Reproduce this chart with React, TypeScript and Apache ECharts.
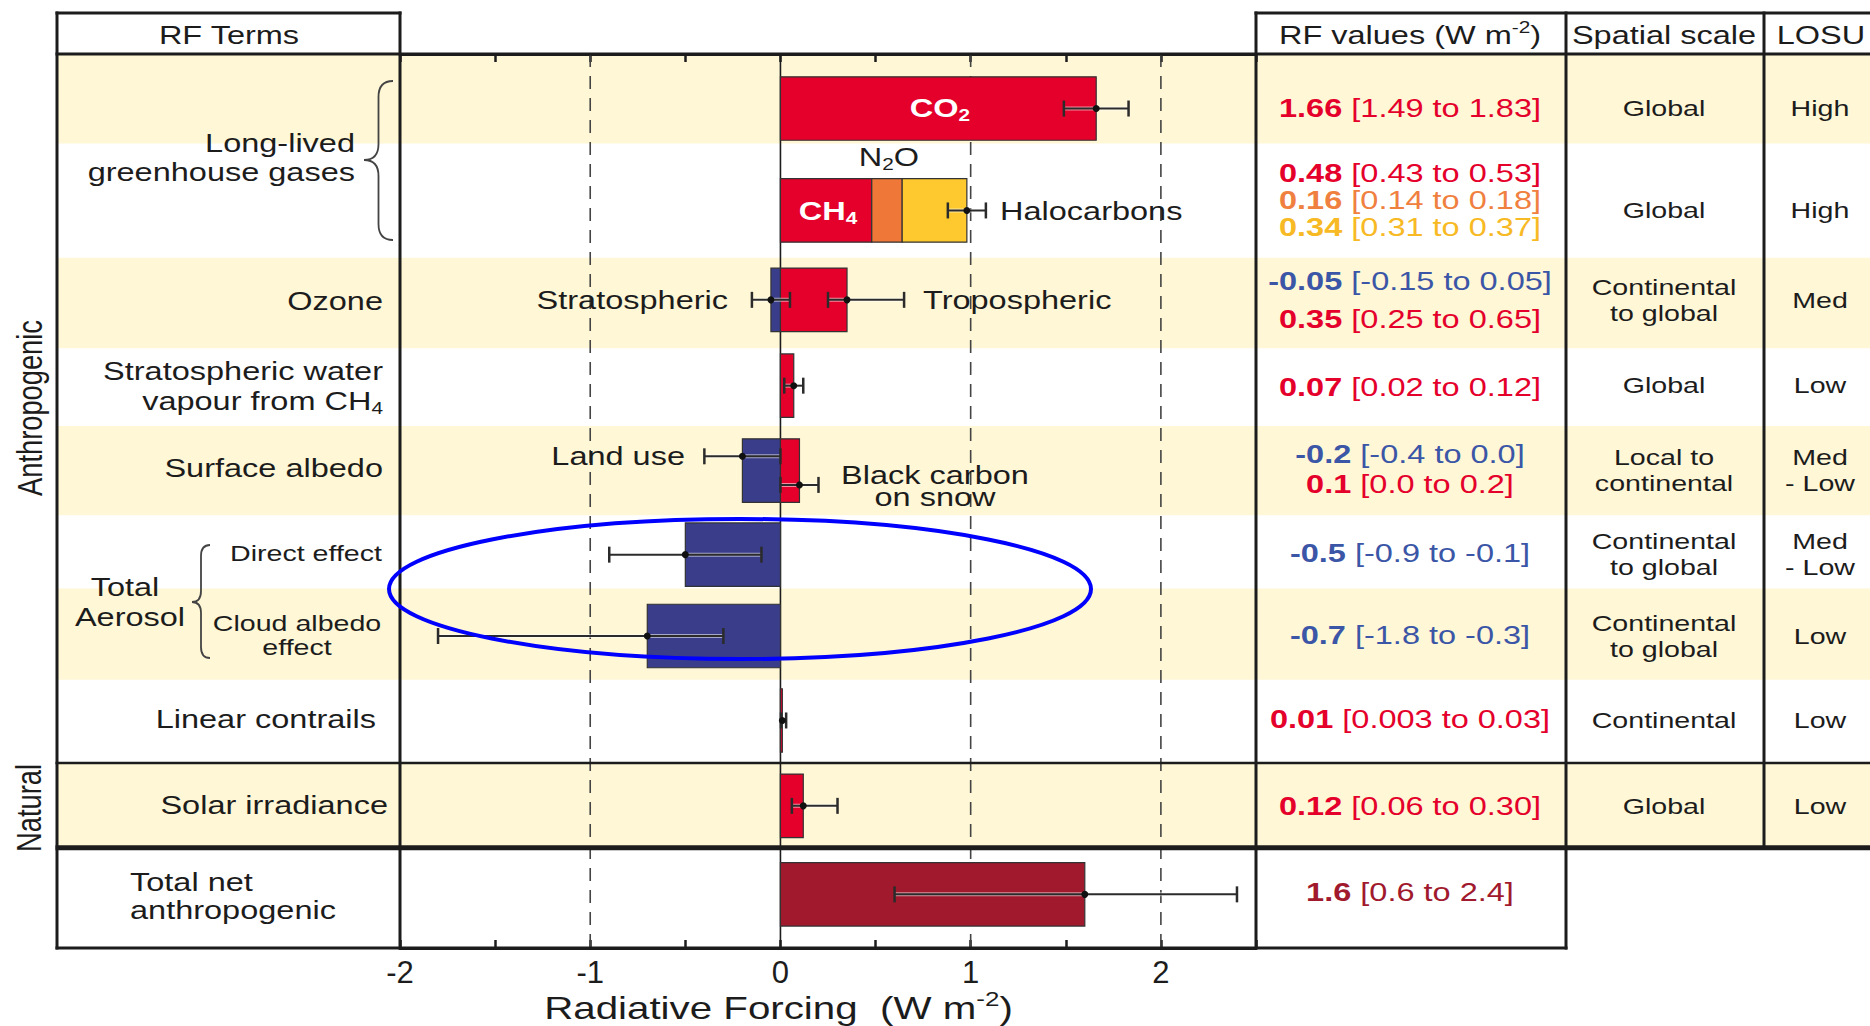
import React, { useEffect, useRef } from 'react';
import * as echarts from 'echarts';

// ---------------- data ----------------
const TERMS = [
  'CO2', 'CH4', 'N2O', 'Halocarbons', 'Stratospheric ozone', 'Tropospheric ozone',
  'Stratospheric water vapour from CH4', 'Surface albedo: land use', 'Surface albedo: black carbon on snow',
  'Aerosol direct effect', 'Aerosol cloud albedo effect', 'Linear contrails', 'Solar irradiance', 'Total net anthropogenic',
];
const BEST = [1.66, 0.48, 0.16, 0.34, -0.05, 0.35, 0.07, -0.2, 0.1, -0.5, -0.7, 0.01, 0.12, 1.6];
const LOW = [1.49, 0.43, 0.14, 0.31, -0.15, 0.25, 0.02, -0.4, 0.0, -0.9, -1.8, 0.003, 0.06, 0.6];
const HIGH = [1.83, 0.53, 0.18, 0.37, 0.05, 0.65, 0.12, 0.0, 0.2, -0.1, -0.3, 0.03, 0.3, 2.4];
const ROW_OF = [0, 1, 1, 1, 2, 2, 3, 4, 4, 5, 6, 7, 8, 9];
const ERROR_GROUPS = [[0], [1, 2, 3], [4], [5], [6], [7], [8], [9], [10], [11], [12], [13]];
const BEST_TEXT = ['1.66', '0.48', '0.16', '0.34', '-0.05', '0.35', '0.07', '-0.2', '0.1', '-0.5', '-0.7', '0.01', '0.12', '1.6'];
const RANGE_TEXT = [
  '[1.49 to 1.83]', '[0.43 to 0.53]', '[0.14 to 0.18]', '[0.31 to 0.37]', '[-0.15 to 0.05]', '[0.25 to 0.65]',
  '[0.02 to 0.12]', '[-0.4 to 0.0]', '[0.0 to 0.2]', '[-0.9 to -0.1]', '[-1.8 to -0.3]', '[0.003 to 0.03]',
  '[0.06 to 0.30]', '[0.6 to 2.4]',
];
const SPATIAL = ['Global', 'Global', 'Continental\nto global', 'Global', 'Local to\ncontinental', 'Continental\nto global', 'Continental\nto global', 'Continental', 'Global'];
const LOSU = ['High', 'High', 'Med', 'Low', 'Med\n- Low', 'Med\n- Low', 'Low', 'Low', 'Low'];
const X_TICKS = [-2, -1, 0, 1, 2];
const GRID_LINES = [-1, 1, 2];

// ---------------- style / layout ----------------
const FONT = '"Liberation Sans", Arial, Helvetica, sans-serif';
const INK = '#1c1c1c';
const STRETCH = 1.3;
const BAND_FILL = '#FFF7D6';
const BAR_FILL: Record<string, string> = { red: '#E4002B', orange: '#EF7737', yellow: '#FDC92E', blue: '#393D8A', dark: '#A0192D' };
const TEXT_FILL: Record<string, string> = { red: '#E4002B', orange: '#F08040', yellow: '#F7B924', blue: '#3B56A6', dark: '#A0192D' };
const COLOR_KEY = ['red', 'red', 'orange', 'yellow', 'blue', 'red', 'red', 'blue', 'red', 'blue', 'blue', 'red', 'red', 'dark'];
const GRID_LEFT = 400;
const GRID_TOP = 54;
const GRID_W = 856;
const GRID_H = 894;
const Y_MAX = 10;
const ROW_CENTER = [0.61, 1.75, 2.75, 3.71, 4.66, 5.6, 6.51, 7.455, 8.41, 9.4];
const BAND_EDGES = [0, 1.0, 2.28, 3.29, 4.16, 5.16, 5.98, 7.0, 7.93, 8.88, 10];
const BAR_HALF = 0.355;
const ERR_DY: Record<number, number> = { 7: -0.16, 8: 0.16 };
const VALUE_Y = [108, 173, 200, 227, 281, 319, 387, 454, 484, 553, 635, 719, 806, 892];
const CAP = 8;

const Y = (u: number) => GRID_TOP + (u / Y_MAX) * GRID_H;

// braces
function braceD(tipX: number, rightX: number, top: number, bottom: number, tipY: number, c: number) {
  const xm = (tipX + rightX) / 2;
  return `M${rightX} ${top} Q${xm} ${top} ${xm} ${top + c} L${xm} ${tipY - c} Q${xm} ${tipY} ${tipX} ${tipY} ` +
    `Q${xm} ${tipY} ${xm} ${tipY + c} L${xm} ${bottom - c} Q${xm} ${bottom} ${rightX} ${bottom}`;
}
echarts.graphic.registerShape('braceA', echarts.graphic.extendPath(braceD(364, 393, 81, 240, 160, 16), {}));
echarts.graphic.registerShape('braceB', echarts.graphic.extendPath(braceD(192, 210, 545, 658, 602, 11), {}));

// bar segments (stacked per row, positive and negative separately)
const SEGMENTS: number[][] = (() => {
  const pos: Record<number, number> = {};
  const neg: Record<number, number> = {};
  const out: number[][] = [];
  BEST.forEach((v, i) => {
    const r = ROW_OF[i];
    if (v >= 0) {
      const b = pos[r] || 0;
      out.push([b, b + v, r, i]);
      pos[r] = b + v;
    } else {
      const b = neg[r] || 0;
      out.push([b + v, b, r, i]);
      neg[r] = b + v;
    }
  });
  return out;
})();

const ERRORS: number[][] = ERROR_GROUPS.map((g) => {
  const sum = (a: number[]) => g.reduce((s, i) => s + a[i], 0);
  return [sum(BEST), sum(LOW), sum(HIGH), ROW_OF[g[0]], g[g.length - 1]];
});

type TO = { size?: number; color?: string; bold?: boolean; align?: string; lh?: number; rich?: any; rot?: number; sx?: number };
function label(x: number, y: number, text: string, o: TO = {}) {
  const style: any = {
    text,
    fill: o.color ?? INK,
    fontSize: o.size ?? 25,
    fontFamily: FONT,
    fontWeight: o.bold ? 'bold' : 'normal',
    align: o.align ?? 'center',
    verticalAlign: 'middle',
  };
  if (o.lh) style.lineHeight = o.lh;
  if (o.rich) style.rich = o.rich;
  return { type: 'text', x, y, z: 100, silent: true, scaleX: o.sx ?? STRETCH, rotation: o.rot ?? 0, style };
}
function richSet(size: number, color: string, bold = false) {
  const w = bold ? 'bold' : 'normal';
  const small = Math.round(size * 0.64);
  return {
    n: { fontSize: size, fontFamily: FONT, fill: color, fontWeight: w, lineHeight: size + 6 },
    b: { fontSize: size, fontFamily: FONT, fill: color, fontWeight: 'bold', lineHeight: size + 6 },
    sub: { fontSize: small, fontFamily: FONT, fill: color, fontWeight: w, lineHeight: small, verticalAlign: 'bottom' },
    sup: { fontSize: small, fontFamily: FONT, fill: color, fontWeight: w, lineHeight: small, verticalAlign: 'top' },
  };
}
const hline = (x1: number, x2: number, y: number, w: number) => ({
  type: 'line', z: 50, silent: true, shape: { x1, y1: y, x2, y2: y }, style: { stroke: INK, lineWidth: w },
});
const vline = (x: number, y1: number, y2: number, w: number) => ({
  type: 'line', z: 50, silent: true, shape: { x1: x, y1, x2: x, y2 }, style: { stroke: INK, lineWidth: w },
});

function buildGraphic() {
  const els: any[] = [];
  // alternating row bands
  for (let i = 0; i < BAND_EDGES.length - 1; i++) {
    if (i % 2 !== 0) continue;
    const y0 = Y(BAND_EDGES[i]);
    const y1 = Y(BAND_EDGES[i + 1]);
    els.push({ type: 'rect', z: -10, silent: true, shape: { x: 57, y: y0, width: 1870 - 57, height: y1 - y0 }, style: { fill: BAND_FILL } });
  }
  // table frame
  els.push(vline(57, 11.5, 949.5, 3), vline(400, 11.5, 949.5, 3), vline(1256, 11.5, 949.5, 3), vline(1566, 11.5, 949.5, 3), vline(1764, 11.5, 848, 3));
  els.push(hline(55.5, 401.5, 13, 3), hline(1254.5, 1870, 13, 3), hline(55.5, 1870, 54, 3));
  els.push(hline(55.5, 1870, Y(BAND_EDGES[8]), 2.5), hline(55.5, 1870, Y(BAND_EDGES[9]), 5), hline(55.5, 1567.5, 948, 3));
  // braces
  els.push({ type: 'braceA', x: 0, y: 0, z: 60, silent: true, style: { fill: 'none', stroke: '#444', lineWidth: 1.8 } });
  els.push({ type: 'braceB', x: 0, y: 0, z: 60, silent: true, style: { fill: 'none', stroke: '#444', lineWidth: 1.8 } });

  // headers
  els.push(label(229, 35, 'RF Terms'));
  els.push(label(1410, 35, '{n|RF values (W m}{sup|-2}{n|)}', { rich: richSet(25, INK) }));
  els.push(label(1664, 35, 'Spatial scale'));
  els.push(label(1821, 35, 'LOSU'));

  // RF terms
  els.push(label(355, 143, 'Long-lived', { align: 'right' }));
  els.push(label(355, 172, 'greenhouse gases', { align: 'right' }));
  els.push(label(383, 301, 'Ozone', { align: 'right' }));
  els.push(label(383, 371, 'Stratospheric water', { align: 'right' }));
  els.push(label(383, 401, '{n|vapour from CH}{sub|4}', { align: 'right', rich: richSet(25, INK) }));
  els.push(label(383, 468, 'Surface albedo', { align: 'right' }));
  els.push(label(382, 553, 'Direct effect', { align: 'right', size: 22 }));
  els.push(label(125, 587, 'Total'));
  els.push(label(130, 617, 'Aerosol'));
  els.push(label(297, 623, 'Cloud albedo', { size: 22 }));
  els.push(label(297, 647, 'effect', { size: 22 }));
  els.push(label(376, 719, 'Linear contrails', { align: 'right' }));
  els.push(label(388, 805, 'Solar irradiance', { align: 'right' }));
  els.push(label(130, 882, 'Total net', { align: 'left' }));
  els.push(label(130, 910, 'anthropogenic', { align: 'left' }));

  // vertical group labels
  els.push(label(30, 408, 'Anthropogenic', { size: 35, rot: Math.PI / 2, sx: 0.78 }));
  els.push(label(29, 808, 'Natural', { size: 35, rot: Math.PI / 2, sx: 0.78 }));

  // plot annotations
  els.push(label(940, 108, '{n|CO}{sub|2}', { rich: richSet(25, '#FFFFFF', true) }));
  els.push(label(828, 211, '{n|CH}{sub|4}', { rich: richSet(25, '#FFFFFF', true) }));
  els.push(label(889, 157, '{n|N}{sub|2}{n|O}', { rich: richSet(25, INK) }));
  els.push(label(1000, 211, 'Halocarbons', { align: 'left' }));
  els.push(label(728, 300, 'Stratospheric', { align: 'right' }));
  els.push(label(923, 300, 'Tropospheric', { align: 'left' }));
  els.push(label(685, 456, 'Land use', { align: 'right' }));
  els.push(label(935, 475, 'Black carbon'));
  els.push(label(935, 497, 'on snow'));

  // RF values column
  BEST_TEXT.forEach((b, i) => {
    const c = TEXT_FILL[COLOR_KEY[i]];
    els.push(label(1410, VALUE_Y[i], `{b|${b}} {n|${RANGE_TEXT[i]}}`, { rich: richSet(25, c) }));
  });
  // spatial scale and LOSU columns
  SPATIAL.forEach((s, r) => {
    els.push(label(1664, Y(ROW_CENTER[r]), s, { size: 22, lh: 26 }));
    els.push(label(1820, Y(ROW_CENTER[r]), LOSU[r], { size: 22, lh: 26 }));
  });

  // axis title
  els.push(label(GRID_LEFT + GRID_W * (2 / 4.5) - 2, 1008, '{n|Radiative Forcing  (W m}{sup|-2}{n|)}', { rich: richSet(31, INK) }));

  // highlight ellipse
  els.push({ type: 'ellipse', z: 120, silent: true, shape: { cx: 740, cy: 589, rx: 351, ry: 70 }, style: { fill: 'none', stroke: '#0000FF', lineWidth: 4 } });
  return els;
}

function buildOption(): any {
  const axisCommon = {
    type: 'value',
    min: -2,
    max: 2.5,
    interval: 0.5,
    axisLine: { show: true, onZero: false, lineStyle: { color: INK, width: 3 } },
    axisTick: { show: true, inside: true, length: 8, lineStyle: { color: INK, width: 2.5 } },
    splitLine: { show: false },
  };
  return {
    animation: false,
    backgroundColor: '#ffffff',
    grid: { left: GRID_LEFT, top: GRID_TOP, width: GRID_W, height: GRID_H },
    xAxis: [
      {
        ...axisCommon,
        position: 'bottom',
        axisLabel: {
          show: true,
          margin: 9,
          color: INK,
          fontSize: 31,
          fontFamily: FONT,
          showMinLabel: true,
          showMaxLabel: true,
          formatter: (v: number) => (X_TICKS.some((t) => Math.abs(t - v) < 1e-9) ? String(Math.round(v)) : ''),
        },
      },
      { ...axisCommon, position: 'top', axisLabel: { show: false } },
    ],
    yAxis: { type: 'value', min: 0, max: Y_MAX, inverse: true, show: false },
    series: [
      {
        name: 'grid lines',
        type: 'custom',
        z: 1,
        silent: true,
        data: GRID_LINES.map((v) => [v, 0]),
        encode: { x: 0, y: 1 },
        renderItem: (_p: any, api: any) => {
          const a = api.coord([api.value(0), 0]);
          const b = api.coord([api.value(0), Y_MAX]);
          return { type: 'line', shape: { x1: a[0], y1: a[1], x2: b[0], y2: b[1] }, style: { stroke: '#444', lineWidth: 1.6, lineDash: [13, 9] } };
        },
      },
      {
        name: 'zero line',
        type: 'custom',
        z: 1,
        silent: true,
        data: [[0, 0]],
        encode: { x: 0, y: 1 },
        renderItem: (_p: any, api: any) => {
          const a = api.coord([api.value(0), 0]);
          const b = api.coord([api.value(0), Y_MAX]);
          return { type: 'line', shape: { x1: a[0], y1: a[1], x2: b[0], y2: b[1] }, style: { stroke: INK, lineWidth: 1.6 } };
        },
      },
      {
        name: 'Radiative forcing',
        type: 'custom',
        z: 3,
        silent: true,
        data: SEGMENTS,
        encode: { x: [0, 1], y: 2 },
        renderItem: (_p: any, api: any) => {
          const x0 = api.value(0);
          const x1 = api.value(1);
          const r = api.value(2);
          const i = api.value(3);
          const yc = ROW_CENTER[r];
          const p0 = api.coord([x0, yc - BAR_HALF]);
          const p1 = api.coord([x1, yc + BAR_HALF]);
          return {
            type: 'rect',
            shape: { x: Math.min(p0[0], p1[0]), y: p0[1], width: Math.abs(p1[0] - p0[0]), height: p1[1] - p0[1] },
            style: { fill: BAR_FILL[COLOR_KEY[i]], stroke: '#333', lineWidth: 1.2 },
          };
        },
      },
      {
        name: 'Uncertainty',
        type: 'custom',
        z: 4,
        silent: true,
        data: ERRORS,
        encode: { x: [0, 1, 2], y: 3 },
        renderItem: (_p: any, api: any) => {
          const best = api.value(0);
          const lo = api.value(1);
          const hi = api.value(2);
          const r = api.value(3);
          const idx = api.value(4);
          const yc = ROW_CENTER[r] + (ERR_DY[idx] || 0);
          const pL = api.coord([lo, yc]);
          const pH = api.coord([hi, yc]);
          const pB = api.coord([best, yc]);
          const y = pB[1];
          return {
            type: 'group',
            children: [
              { type: 'line', shape: { x1: pL[0], y1: y, x2: pH[0], y2: y }, style: { stroke: 'rgba(255,255,255,0.55)', lineWidth: 4 } },
              { type: 'line', shape: { x1: pL[0], y1: y, x2: pH[0], y2: y }, style: { stroke: '#2b2b2b', lineWidth: 2 } },
              { type: 'line', shape: { x1: pL[0], y1: y - CAP, x2: pL[0], y2: y + CAP }, style: { stroke: '#2b2b2b', lineWidth: 2.5 } },
              { type: 'line', shape: { x1: pH[0], y1: y - CAP, x2: pH[0], y2: y + CAP }, style: { stroke: '#2b2b2b', lineWidth: 2.5 } },
              { type: 'circle', shape: { cx: pB[0], cy: y, r: 3.5 }, style: { fill: '#111' } },
            ],
          };
        },
      },
    ],
    graphic: buildGraphic(),
  };
}

export default function App() {
  const ref = useRef<HTMLDivElement>(null);
  useEffect(() => {
    document.body.style.margin = '0';
    document.body.style.overflow = 'hidden';
    const chart = echarts.init(ref.current as HTMLDivElement, undefined, { renderer: 'svg' });
    chart.setOption(buildOption());
    return () => chart.dispose();
  }, []);
  return <div ref={ref} style={{ width: 1870, height: 1026 }} data-terms={TERMS.length} />;
}
